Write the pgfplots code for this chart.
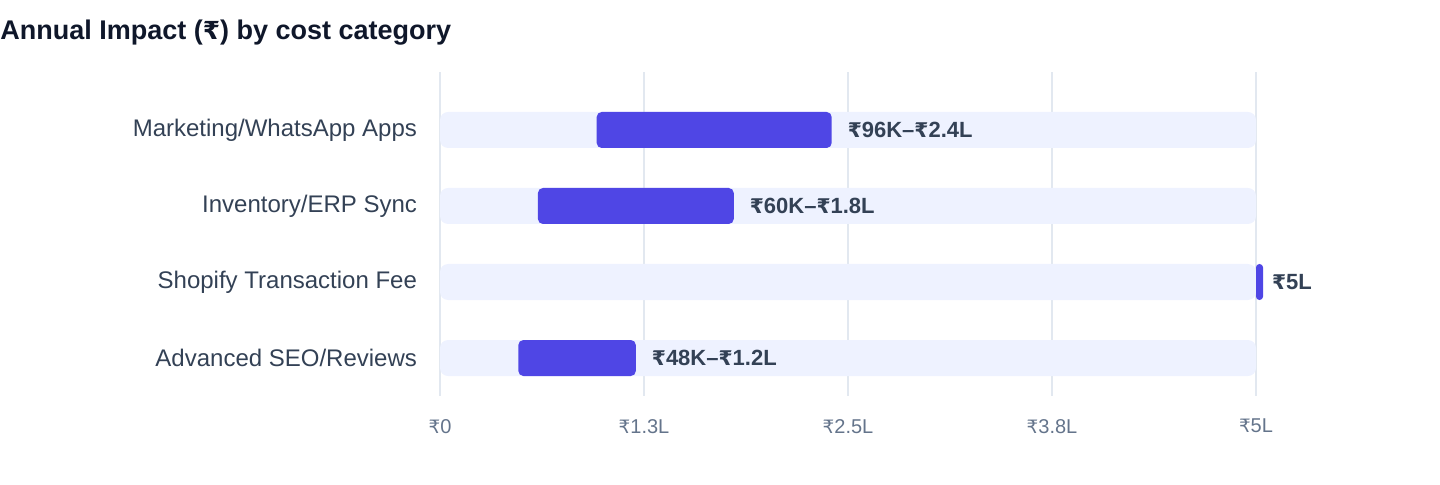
\documentclass[border=0pt]{standalone}
\usepackage{fontspec}
\setmainfont{Liberation Sans}
\newfontfamily\rfont{DejaVu Sans}[Scale=0.92]
\newcommand\Rs{{\rfont ₹}}
\usepackage{pgfplots}
\pgfplotsset{compat=1.18}
\definecolor{barc}{HTML}{4F46E5}
\definecolor{trackc}{HTML}{EEF2FF}
\definecolor{gridc}{HTML}{E2E8F0}
\definecolor{labc}{HTML}{334155}
\definecolor{tickc}{HTML}{64748B}
\definecolor{ttlc}{HTML}{0F172A}
\tikzset{vlab/.style={anchor=west, text=labc, font=\bfseries\fontsize{11}{13}\selectfont}}
\begin{document}
\begin{tikzpicture}
\useasboundingbox (0,0) rectangle (720pt,242pt);
\pgfplotsset{base/.style={scale only axis, width=408pt, height=162pt,
  xmin=0, xmax=500000, ymin=-0.5, ymax=3.763,
  at={(220pt,44pt)}, anchor=south west, clip=false}}
\node[anchor=base west, font=\bfseries\fontsize{13.5}{15}\selectfont, text=ttlc, inner sep=0pt] at (0pt,222.5pt) {Annual Impact (\Rs) by cost category};
\begin{axis}[base,
  axis line style={draw=none}, major tick length=0pt,
  xtick={0,125000,250000,375000,500000},
  xticklabels={\Rs0,\Rs1.3L,\Rs2.5L,\Rs3.8L,\Rs5L},
  scaled x ticks=false,
  xmajorgrids, grid style={gridc, line width=1pt},
  ytick={0,1,2,3},
  yticklabels={Advanced SEO/Reviews, Shopify Transaction Fee, Inventory/ERP Sync, Marketing/WhatsApp Apps},
  yticklabel style={text=labc, font=\fontsize{12}{14}\selectfont, xshift=-8pt},
  xticklabel style={text=tickc, font=\fontsize{10}{12}\selectfont, yshift=-8pt}]
\addplot[xbar, bar width=18pt, fill=trackc, draw=none, rounded corners=4pt]
  coordinates {(500000,0) (500000,1) (500000,2) (500000,3)};
\end{axis}
\begin{axis}[base, hide axis, xbar stacked, bar width=18pt]
\addplot[draw=none, fill=none] coordinates {(96000,3) (60000,2) (500000,1) (48000,0)};
\addplot[fill=barc, draw=none, rounded corners=2.5pt]
  coordinates {(144000,3) (120000,2) (0,1) (72000,0)};
\end{axis}
\begin{axis}[base, hide axis, xbar stacked, bar width=18pt]
\addplot[draw=none, fill=none] coordinates {(500000,1)};
\addplot[fill=barc, draw=none, rounded corners=1.7pt]
  coordinates {(4300,1)};
\end{axis}
\begin{axis}[base, hide axis]
\addplot[draw=none, mark=none, nodes near coords, point meta=explicit symbolic,
  nodes near coords style={vlab, xshift=4.5pt}]
  coordinates {(240000,3) [\Rs96K–\Rs2.4L] (180000,2) [\Rs60K–\Rs1.8L] (120000,0) [\Rs48K–\Rs1.2L]};
\addplot[draw=none, mark=none, nodes near coords, point meta=explicit symbolic,
  nodes near coords style={vlab, xshift=1pt}]
  coordinates {(504300,1) [\Rs5L]};
\end{axis}
\end{tikzpicture}
\end{document}
